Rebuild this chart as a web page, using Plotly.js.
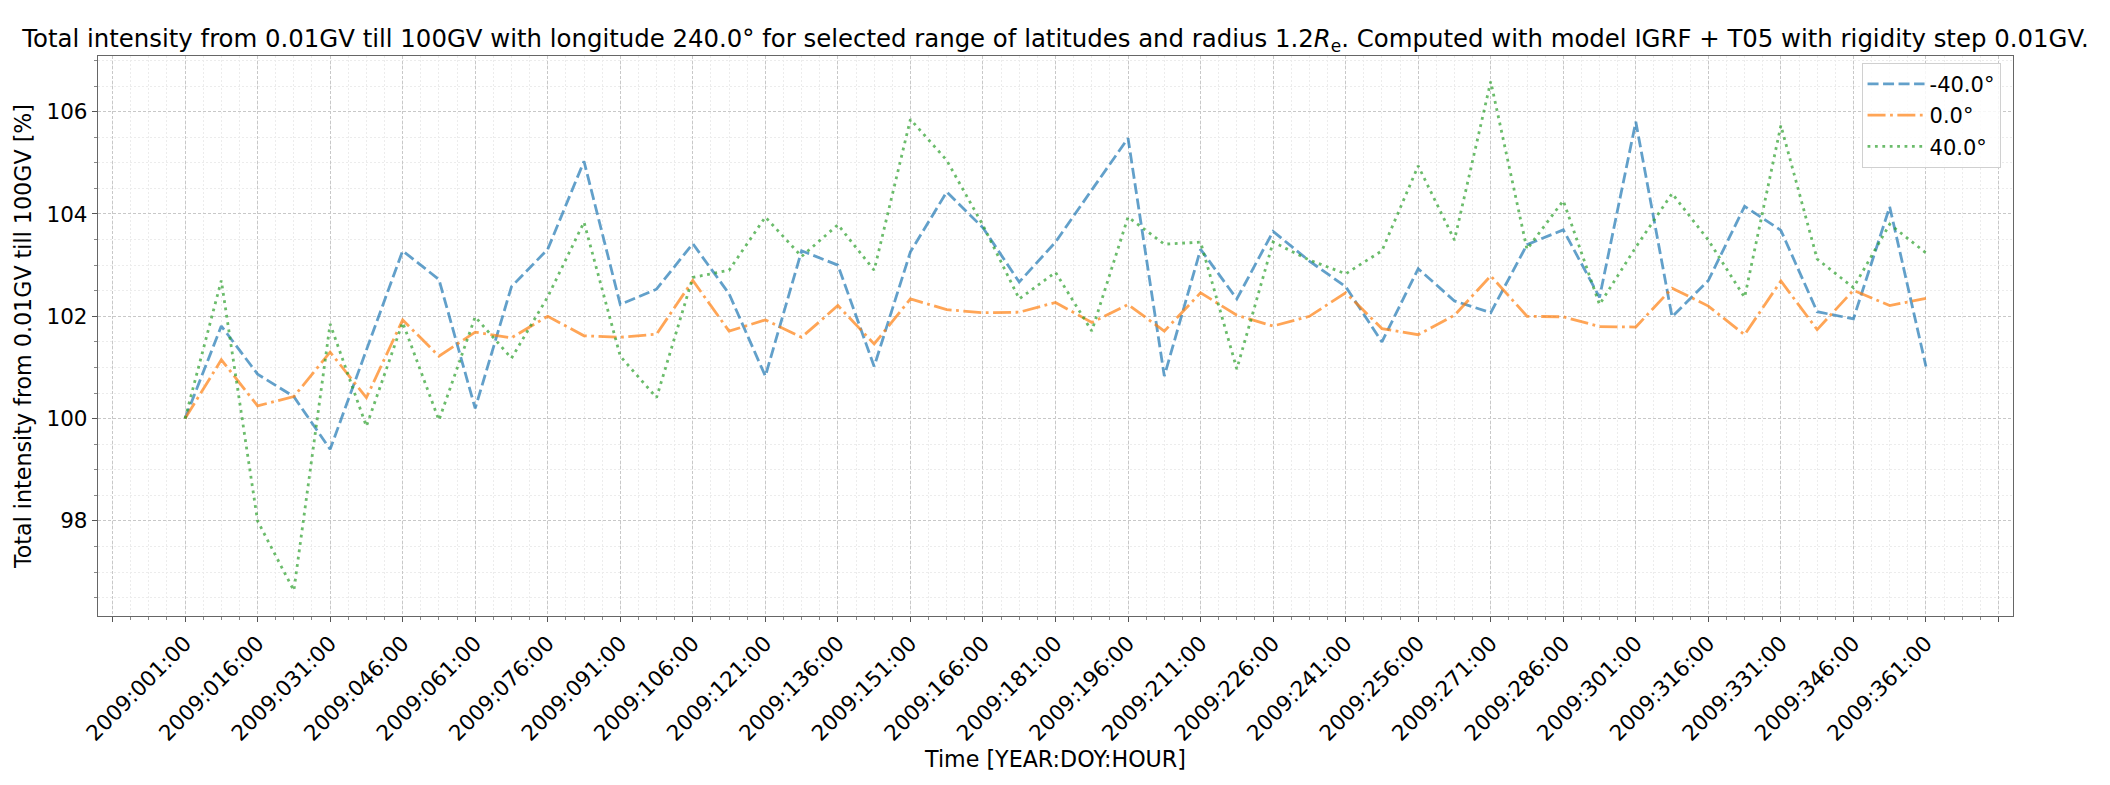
<!DOCTYPE html>
<html>
<head>
<meta charset="utf-8">
<script src="https://cdn.plot.ly/plotly-3.0.1.min.js"></script>
<style>html,body{margin:0;padding:0;background:#fff;}#chart{width:2110px;height:785px;}</style>
</head>
<body>
<div id="chart"></div>
<script>
// Sample times [YEAR:DOY:HOUR]
const times = [
  '2009:001:00','2009:008:12','2009:016:00','2009:023:12','2009:031:00','2009:038:12','2009:046:00',
  '2009:053:12','2009:061:00','2009:068:12','2009:076:00','2009:083:12','2009:091:00','2009:098:12',
  '2009:106:00','2009:113:12','2009:121:00','2009:128:12','2009:136:00','2009:143:12','2009:151:00',
  '2009:158:12','2009:166:00','2009:173:12','2009:181:00','2009:188:12','2009:196:00','2009:203:12',
  '2009:211:00','2009:218:12','2009:226:00','2009:233:12','2009:241:00','2009:248:12','2009:256:00',
  '2009:263:12','2009:271:00','2009:278:12','2009:286:00','2009:293:12','2009:301:00','2009:308:12',
  '2009:316:00','2009:323:12','2009:331:00','2009:338:12','2009:346:00','2009:353:12','2009:361:00'
];

// Latitude -40.0°
const latMinus40 = [
  100.0, 101.81, 100.87, 100.43, 99.40, 101.34, 103.28, 102.72, 100.20, 102.58,
  103.31, 105.03, 102.23, 102.53, 103.42, 102.44, 100.83, 103.28, 103.00, 101.02,
  103.26, 104.43, 103.73, 102.67, 103.45, 104.47, 105.48, 100.83, 103.31, 102.34,
  103.66, 103.08, 102.58, 101.50, 102.93, 102.30, 102.07, 103.40, 103.69, 102.37,
  105.80, 101.99, 102.70, 104.15, 103.68, 102.09, 101.95, 104.14, 101.02
];
// Latitude 0.0°
const lat0 = [
  100.0, 101.15, 100.25, 100.43, 101.30, 100.41, 101.93, 101.22, 101.69, 101.58,
  102.00, 101.62, 101.59, 101.65, 102.70, 101.71, 101.93, 101.59, 102.21, 101.46,
  102.34, 102.13, 102.07, 102.08, 102.27, 101.88, 102.23, 101.71, 102.46, 102.02,
  101.81, 102.00, 102.46, 101.76, 101.64, 102.02, 102.79, 102.00, 101.99, 101.80,
  101.79, 102.55, 102.20, 101.64, 102.69, 101.74, 102.51, 102.21, 102.35
];
// Latitude 40.0°
const lat40 = [
  100.0, 102.70, 98.00, 96.64, 101.85, 99.85, 101.88, 99.97, 101.99, 101.18,
  102.38, 103.84, 101.22, 100.41, 102.76, 102.90, 103.94, 103.17, 103.79, 102.90,
  105.85, 105.05, 103.78, 102.34, 102.86, 101.71, 103.94, 103.41, 103.45, 100.97,
  103.45, 103.10, 102.83, 103.28, 104.94, 103.49, 106.59, 103.31, 104.26, 102.23,
  103.35, 104.40, 103.49, 102.37, 105.73, 103.12, 102.56, 103.80, 103.24
];

const seriesNames = ['-40.0°', '0.0°', '40.0°'];

// Tick labels shown on the time axis
const tickLabels = [
  '2009:001:00','2009:016:00','2009:031:00','2009:046:00','2009:061:00','2009:076:00','2009:091:00',
  '2009:106:00','2009:121:00','2009:136:00','2009:151:00','2009:166:00','2009:181:00','2009:196:00',
  '2009:211:00','2009:226:00','2009:241:00','2009:256:00','2009:271:00','2009:286:00','2009:301:00',
  '2009:316:00','2009:331:00','2009:346:00','2009:361:00'
];

// Convert "YEAR:DOY:HOUR" to fractional day of year
function toDay(s) {
  const p = s.split(':');
  return parseInt(p[1], 10) + parseInt(p[2], 10) / 24;
}
const xs = times.map(toDay);

// Major ticks: labelled ones plus an unlabelled one at each end
const labelDays = tickLabels.map(toDay);
const step = labelDays[1] - labelDays[0];
const tickVals = [labelDays[0] - step].concat(labelDays, [labelDays[labelDays.length - 1] + step]);
const tickText = [''].concat(tickLabels, ['']);

const FONT = 'DejaVu Sans, Liberation Sans, sans-serif';
const FS_TICK = 21.5;  // tick labels
const FS_LEG = 21;     // legend
const FS_LABEL = 22.2; // axis titles
const FS_TITLE = 24.4; // chart title

const styles = [
  {color: '#1f77b4', dash: '11px,4.5px'},
  {color: '#ff7f0e', dash: '18px,4.5px,2.8px,4.5px'},
  {color: '#2ca02c', dash: '2.8px,4.6px'}
];
const ys = [latMinus40, lat0, lat40];

const traces = ys.map((y, k) => ({
  type: 'scatter',
  mode: 'lines',
  x: xs,
  y: y,
  name: seriesNames[k],
  legendgroup: 'g' + k,
  opacity: 0.7,
  line: {color: styles[k].color, width: 2.8, dash: styles[k].dash}
}));

// ranges with 5% padding around data extent
const all = latMinus40.concat(lat0, lat40);
const ymin = Math.min(...all), ymax = Math.max(...all);
const ypad = (ymax - ymin) * 0.05;
const xmin = xs[0], xmax = xs[xs.length - 1];
const xpad = (xmax - xmin) * 0.05;

const layout = {
  width: 2110,
  height: 785,
  paper_bgcolor: '#ffffff',
  plot_bgcolor: '#ffffff',
  font: {family: FONT, size: FS_TICK, color: '#000'},
  margin: {l: 98, r: 97, t: 56, b: 169, pad: 0},
  title: {
    text: 'Total intensity from 0.01GV till 100GV with longitude 240.0° for selected range of latitudes and radius 1.2<i>R</i><sub>e</sub>. Computed with model IGRF + T05 with rigidity step 0.01GV.',
    font: {family: FONT, size: FS_TITLE, color: '#000'},
    x: 0.5, xanchor: 'center', xref: 'paper',
    y: 1 - 38 / 785, yanchor: 'middle', yref: 'container'
  },
  showlegend: true,
  legend: {
    x: 0.9935, xanchor: 'right', y: 0.988, yanchor: 'top',
    bgcolor: 'rgba(255,255,255,0.85)', bordercolor: '#d0d0d0', borderwidth: 1,
    font: {family: FONT, size: FS_LEG, color: '#000'},
    itemwidth: 57,
    tracegroupgap: 1
  },
  xaxis: {
    range: [xmin - xpad, xmax + xpad],
    tickmode: 'array',
    tickvals: tickVals,
    ticktext: tickText,
    tickangle: -45,
    tickfont: {family: FONT, size: FS_TICK, color: '#000'},
    ticks: 'outside', ticklen: 5, tickwidth: 1, tickcolor: '#555',
    showline: true, linecolor: '#666', linewidth: 1.2, mirror: true,
    showgrid: true, gridcolor: '#c8c8c8', gridwidth: 1, griddash: '3px,2px',
    zeroline: false,
    minor: {
      tickmode: 'linear', tick0: labelDays[0], dtick: step / 4,
      showgrid: true, gridcolor: '#ececec', gridwidth: 1, griddash: '2px,2px',
      ticks: 'outside', ticklen: 2.5, tickcolor: '#888'
    },
    title: {text: 'Time [YEAR:DOY:HOUR]', font: {family: FONT, size: FS_LABEL, color: '#000'}, standoff: 0},
    automargin: false
  },
  yaxis: {
    range: [ymin - ypad, ymax + ypad],
    tickmode: 'linear', tick0: 98, dtick: 2,
    tickfont: {family: FONT, size: FS_TICK, color: '#000'},
    ticks: 'outside', ticklen: 5, tickwidth: 1, tickcolor: '#555',
    showline: true, linecolor: '#666', linewidth: 1.2, mirror: true,
    showgrid: true, gridcolor: '#c8c8c8', gridwidth: 1, griddash: '3px,2px',
    zeroline: false,
    minor: {
      tickmode: 'linear', tick0: 98, dtick: 0.5,
      showgrid: true, gridcolor: '#ececec', gridwidth: 1, griddash: '2px,2px',
      ticks: 'outside', ticklen: 2.5, tickcolor: '#888'
    },
    title: {text: 'Total intensity from 0.01GV till 100GV [%]', font: {family: FONT, size: FS_LABEL, color: '#000'}, standoff: 8},
    automargin: false
  }
};

Plotly.newPlot('chart', traces, layout, {displayModeBar: false, staticPlot: true});
</script>
</body>
</html>
